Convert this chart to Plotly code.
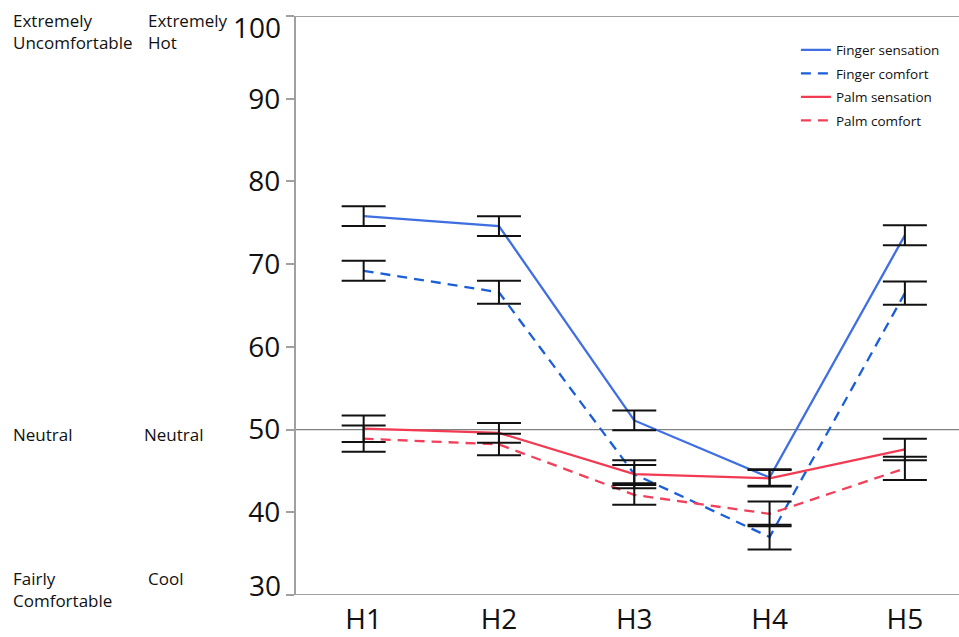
import plotly.graph_objects as go

categories = ["H1", "H2", "H3", "H4", "H5"]

finger_sensation = [75.8, 74.6, 51.1, 44.2, 73.5]
finger_sensation_err = [1.2, 1.2, 1.2, 1.0, 1.2]

finger_comfort = [69.2, 66.6, 44.6, 37.0, 66.5]
finger_comfort_err = [1.2, 1.4, 1.7, 1.5, 1.4]

palm_sensation = [50.1, 49.6, 44.6, 44.1, 47.6]
palm_sensation_err = [1.6, 1.2, 1.1, 1.0, 1.3]

palm_comfort = [48.9, 48.2, 42.1, 39.8, 45.3]
palm_comfort_err = [1.6, 1.3, 1.2, 1.5, 1.4]

y_tick_vals = [30, 40, 50, 60, 70, 80, 90, 100]
y_tick_text = ["30", "40", "50", "60", "70", "80", "90", "100"]

series_names = ["Finger sensation", "Finger comfort", "Palm sensation", "Palm comfort"]
series_colors = ["#3f6fe0", "#1a5ed8", "#f23a52", "#f0405a"]
series_dash = ["solid", "dash", "solid", "dash"]

left_labels_col1 = ["Extremely<br>Uncomfortable", "Neutral", "Fairly<br>Comfortable"]
left_labels_col2 = ["Extremely<br>Hot", "Neutral", "Cool"]

values = [finger_sensation, finger_comfort, palm_sensation, palm_comfort]
errors = [finger_sensation_err, finger_comfort_err, palm_sensation_err, palm_comfort_err]

fig = go.Figure()

for name, vals, col, dash in zip(series_names, values, series_colors, series_dash):
    fig.add_trace(go.Scatter(
        x=categories, y=vals, mode="lines", name=name, legendgroup=name,
        line=dict(color=col, width=2.3, dash=dash if dash == "solid" else "10px,7px"),
    ))

for vals, errs in zip(values, errors):
    fig.add_trace(go.Scatter(
        x=categories, y=vals, mode="markers", showlegend=False, hoverinfo="skip",
        marker=dict(size=1, color="rgba(0,0,0,0)"),
        error_y=dict(type="data", array=errs, visible=True, color="#111111",
                     thickness=2, width=22),
    ))

# end labels (30, 100) are drawn nudged inward, as in the source
inner_text = [t if v not in (y_tick_vals[0], y_tick_vals[-1]) else "" for v, t in zip(y_tick_vals, y_tick_text)]

fig.update_layout(
    width=959, height=637,
    margin=dict(l=296, r=0, t=16, b=42, autoexpand=False),
    paper_bgcolor="white", plot_bgcolor="white",
    font=dict(family="Open Sans, sans-serif", color="#111111"),
    xaxis=dict(
        type="category", range=[-0.5, 4.4],
        showgrid=False, zeroline=False, automargin=False,
        showline=False, ticks="",
        tickfont=dict(size=28), ticklabelstandoff=5,
        ticklabeloverflow="allow",
    ),
    yaxis=dict(
        range=[29.99, 100.01], tickmode="array", tickvals=y_tick_vals, ticktext=inner_text,
        showgrid=False, zeroline=False, automargin=False,
        showline=True, linecolor="#a0a0a0", linewidth=2,
        ticks="outside", ticklen=8, tickcolor="#a0a0a0", tickwidth=2,
        tickfont=dict(size=28), ticklabeloverflow="allow",
    ),
    legend=dict(
        x=0.754, y=0.968, xanchor="left", yanchor="top",
        font=dict(size=13.5), bgcolor="rgba(0,0,0,0)",
        itemwidth=30, tracegroupgap=3,
    ),
    showlegend=True,
)

for v, t, ys in [(y_tick_vals[-1], y_tick_text[-1], -11), (y_tick_vals[0], y_tick_text[0], 10)]:
    fig.add_annotation(xref="paper", yref="y", x=0, y=v, xanchor="right", yanchor="middle",
                       text=t, showarrow=False, font=dict(size=28, color="#111111"),
                       xshift=-13, yshift=ys)

# frame lines: top, bottom, neutral reference
fig.add_shape(type="line", xref="paper", yref="y", x0=-0.012, x1=1, y0=100, y1=100,
              line=dict(color="#a0a0a0", width=2))
fig.add_shape(type="line", xref="paper", yref="y", x0=-0.012, x1=1, y0=30, y1=30,
              line=dict(color="#a0a0a0", width=2))
fig.add_shape(type="line", xref="paper", yref="y", x0=0, x1=1, y0=50, y1=50,
              line=dict(color="#808080", width=1.2), layer="below")

label_ys = [100, 50, 30]
yshifts = [9, -5, 30]
for txt, yv, ys in zip(left_labels_col1, label_ys, yshifts):
    fig.add_annotation(xref="paper", yref="y", x=-296/663, y=yv, xanchor="left",
                       yanchor="top" if yv != 50 else "middle",
                       text=txt, showarrow=False, align="left",
                       font=dict(size=17, color="#111111"),
                       xshift=11, yshift=ys)
col2_x = [146, 142, 146]
for txt, yv, cx, ys in zip(left_labels_col2, label_ys, col2_x, yshifts):
    fig.add_annotation(xref="paper", yref="y", x=-296/663, y=yv, xanchor="left",
                       yanchor="top" if yv != 50 else "middle",
                       text=txt, showarrow=False, align="left",
                       font=dict(size=17, color="#111111"),
                       xshift=cx, yshift=ys)

fig.write_html("out.html")
